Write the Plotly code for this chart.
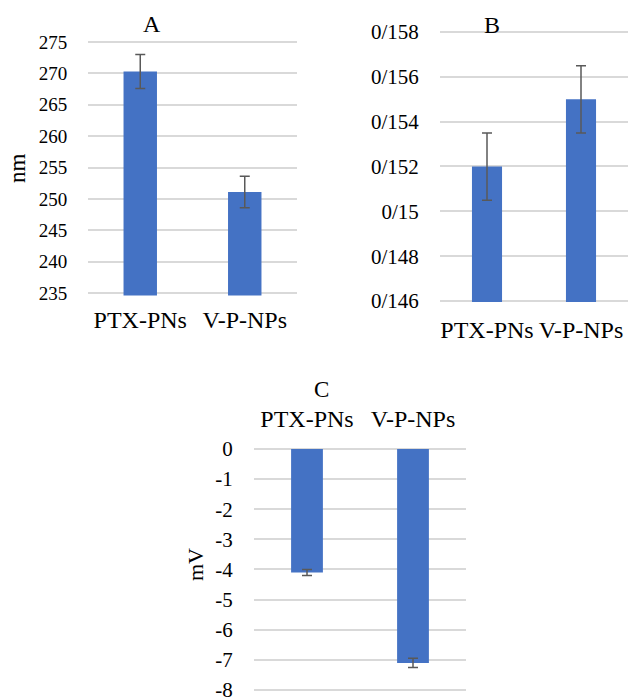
import plotly.graph_objects as go

W, H = 629, 697

categories = ["PTX-PNs", "V-P-NPs"]

# Panel A: particle size (nm)
size_vals = [270.3, 251.1]
size_err = [2.7, 2.5]
size_ticks = [235, 240, 245, 250, 255, 260, 265, 270, 275]

# Panel B: PDI
pdi_vals = [0.152, 0.155]
pdi_err = [0.0015, 0.0015]
pdi_ticks = [0.146, 0.148, 0.150, 0.152, 0.154, 0.156, 0.158]
pdi_ticktext = ["0/146", "0/148", "0/15", "0/152", "0/154", "0/156", "0/158"]

# Panel C: zeta potential (mV)
zeta_vals = [-4.1, -7.1]
zeta_err = [0.1, 0.15]
zeta_ticks = [0, -1, -2, -3, -4, -5, -6, -7, -8]
zeta_ticktext = ["0", "-1", "-2", "-3", "-4", "-5", "-6", "-7", "-8"]

FONT = "Liberation Serif, Times New Roman, serif"
BAR = "#4472C4"
GRID = "#D9D9D9"
ERR = "#595959"


def xdom(px0, px1):
    return [px0 / W, px1 / W]


def ydom(v_top, py_top, v_bot, py_bot, lo, hi):
    ppu = (py_bot - py_top) / (v_top - v_bot)
    top = py_top - (hi - v_top) * ppu
    bot = py_bot + (v_bot - lo) * ppu
    return [1 - bot / H, 1 - top / H]


fig = go.Figure()

fig.add_trace(go.Bar(x=categories, y=size_vals, width=0.32, marker_color=BAR,
                     error_y=dict(type="data", array=size_err, color=ERR, thickness=1.5, width=5),
                     xaxis="x", yaxis="y", showlegend=False))
fig.add_trace(go.Bar(x=categories, y=pdi_vals, width=0.32, marker_color=BAR,
                     error_y=dict(type="data", array=pdi_err, color=ERR, thickness=1.5, width=5),
                     xaxis="x2", yaxis="y2", showlegend=False))
fig.add_trace(go.Bar(x=categories, y=zeta_vals, width=0.3, marker_color=BAR,
                     error_y=dict(type="data", array=zeta_err, color=ERR, thickness=1.5, width=5),
                     xaxis="x3", yaxis="y3", showlegend=False))

A_lo, A_hi = 234.6, 275.4
B_lo, B_hi = 0.14595, 0.15805
C_lo, C_hi = -8.1, 0.1

common_x = dict(showgrid=False, showline=False, zeroline=False, ticks="outside",
                tickcolor="rgba(0,0,0,0)", fixedrange=True, automargin=False,
                ticklabeloverflow="allow",
                tickfont=dict(family=FONT, size=24, color="#000"))
common_y = dict(showgrid=True, gridcolor=GRID, gridwidth=1.5, showline=False, zeroline=False,
                ticks="outside", tickcolor="rgba(0,0,0,0)", ticklen=16, fixedrange=True,
                automargin=False, ticklabeloverflow="allow")

fig.update_layout(
    template="none",
    width=W, height=H,
    margin=dict(l=0, r=0, t=0, b=0, pad=0, autoexpand=False),
    paper_bgcolor="white", plot_bgcolor="white",
    font=dict(family=FONT, color="#000"),
    xaxis=dict(domain=xdom(88, 297), anchor="y", ticklen=3, **common_x),
    yaxis=dict(domain=ydom(275, 42, 235, 293, A_lo, A_hi), anchor="x", range=[A_lo, A_hi],
               tickvals=size_ticks, tickfont=dict(family=FONT, size=19, color="#000"), **common_y),
    xaxis2=dict(domain=xdom(440, 628), anchor="y2", ticklen=6, **common_x),
    yaxis2=dict(domain=ydom(0.158, 32, 0.146, 301, B_lo, B_hi), anchor="x2", range=[B_lo, B_hi],
                tickvals=pdi_ticks, ticktext=pdi_ticktext,
                tickfont=dict(family=FONT, size=21, color="#000"), **common_y),
    xaxis3=dict(domain=xdom(254, 466), anchor="y3", side="top", ticklen=8, **common_x),
    yaxis3=dict(domain=ydom(0, 449, -8, 690, C_lo, C_hi), anchor="x3", range=[C_lo, C_hi],
                tickvals=zeta_ticks, ticktext=zeta_ticktext,
                tickfont=dict(family=FONT, size=21, color="#000"), **common_y),
)

ann = [
    dict(text="A", x=152 / W, y=1 - 24 / H, size=24),
    dict(text="B", x=492 / W, y=1 - 25 / H, size=24),
    dict(text="C", x=321 / W, y=1 - 389 / H, size=23),
]
for a in ann:
    fig.add_annotation(text=a["text"], x=a["x"], y=a["y"], xref="paper", yref="paper",
                       showarrow=False, xanchor="center", yanchor="middle",
                       font=dict(family=FONT, size=a["size"], color="#000"))

fig.add_annotation(text="nm", x=18 / W, y=1 - 168 / H, xref="paper", yref="paper",
                   showarrow=False, textangle=-90, xanchor="center", yanchor="middle",
                   font=dict(family=FONT, size=23, color="#000"))
fig.add_annotation(text="mV", x=195 / W, y=1 - 565 / H, xref="paper", yref="paper",
                   showarrow=False, textangle=-90, xanchor="center", yanchor="middle",
                   font=dict(family=FONT, size=22, color="#000"))

fig.write_html("out.html")
